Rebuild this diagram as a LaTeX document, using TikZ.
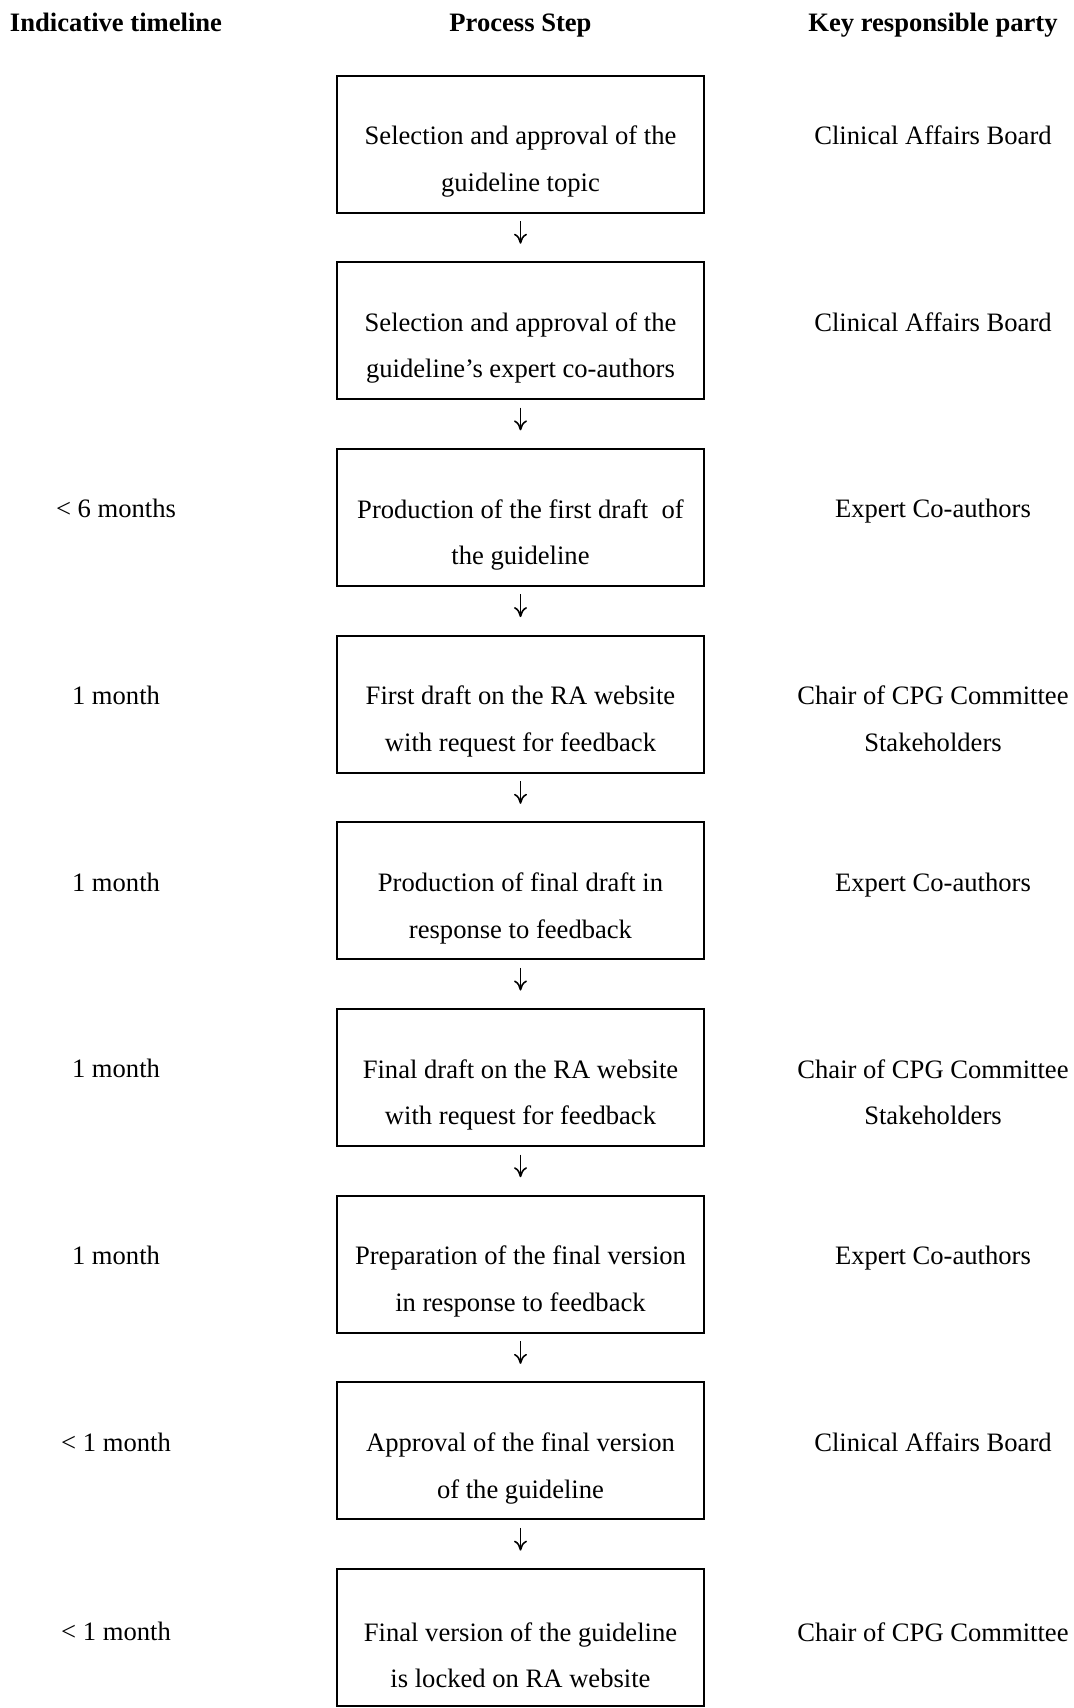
\documentclass[tikz,border=0pt]{standalone}
\usepackage{fontspec}
\setmainfont{Liberation Serif}
\usetikzlibrary{positioning,arrows.meta}

\tikzset{
  stepbox/.style={draw, line width=1pt, minimum width=183.5pt, minimum height=68.5pt, inner sep=0pt},
  steptext/.style={align=center, font=\fontsize{13.3}{23.3}\selectfont},
  sidetext/.style={steptext, anchor=north},
  colhead/.style={font=\fontsize{13.3}{16}\selectfont\bfseries, text height=9.5pt, text depth=3pt},
  flow/.style={-{To[length=5pt,width=6.5pt]}, line width=0.8pt, shorten <=3.75pt, shorten >=8.75pt}
}

\begin{document}
\begin{tikzpicture}[x=0.5pt, y=-0.5pt, node distance=23.85pt]
\useasboundingbox (0,0) rectangle (1073,1708);
% column headings
\node[colhead] (hTime) at (116,25) {Indicative timeline};
\node[colhead] (hStep) at (520.5,25) {Process Step};
\node[colhead] (hParty) at (933,25) {Key responsible party};

% process boxes
\node[stepbox] (s1) at (520.5,144) {};
\node[stepbox, below=of s1] (s2) {};
\node[stepbox, below=of s2] (s3) {};
\node[stepbox, below=of s3] (s4) {};
\node[stepbox, below=of s4] (s5) {};
\node[stepbox, below=of s5] (s6) {};
\node[stepbox, below=of s6] (s7) {};
\node[stepbox, below=of s7] (s8) {};
\node[stepbox, below=of s8] (s9) {};

% box texts
\node[steptext] (t1) at ([yshift=-8.75pt]s1.center) {Selection and approval of the\\guideline topic};
\node[steptext] (t2) at ([yshift=-8.75pt]s2.center) {Selection and approval of the\\guideline’s expert co-authors};
\node[steptext] (t3) at ([yshift=-8.75pt]s3.center) {Production of the first draft \ of\\the guideline};
\node[steptext] (t4) at ([yshift=-8.75pt]s4.center) {First draft on the RA website\\with request for feedback};
\node[steptext] (t5) at ([yshift=-8.75pt]s5.center) {Production of final draft in\\response to feedback};
\node[steptext] (t6) at ([yshift=-8.75pt]s6.center) {Final draft on the RA website\\with request for feedback};
\node[steptext] (t7) at ([yshift=-8.75pt]s7.center) {Preparation of the final version\\in response to feedback};
\node[steptext] (t8) at ([yshift=-8.75pt]s8.center) {Approval of the final version\\of the guideline};
\node[steptext] (t9) at ([yshift=-8.75pt]s9.center) {Final version of the guideline\\is locked on RA website};

% timeline
\node[sidetext] (d3) at (t3.north -| hTime) {< 6 months};
\node[sidetext] (d4) at (t4.north -| hTime) {1 month};
\node[sidetext] (d5) at (t5.north -| hTime) {1 month};
\node[sidetext] (d6) at (t6.north -| hTime) {1 month};
\node[sidetext] (d7) at (t7.north -| hTime) {1 month};
\node[sidetext] (d8) at (t8.north -| hTime) {< 1 month};
\node[sidetext] (d9) at (t9.north -| hTime) {< 1 month};

% responsible parties
\node[sidetext] (p1) at (t1.north -| hParty) {Clinical Affairs Board};
\node[sidetext] (p2) at (t2.north -| hParty) {Clinical Affairs Board};
\node[sidetext] (p3) at (t3.north -| hParty) {Expert Co-authors};
\node[sidetext] (p4) at (t4.north -| hParty) {Chair of CPG Committee\\Stakeholders};
\node[sidetext] (p5) at (t5.north -| hParty) {Expert Co-authors};
\node[sidetext] (p6) at (t6.north -| hParty) {Chair of CPG Committee\\Stakeholders};
\node[sidetext] (p7) at (t7.north -| hParty) {Expert Co-authors};
\node[sidetext] (p8) at (t8.north -| hParty) {Clinical Affairs Board};
\node[sidetext] (p9) at (t9.north -| hParty) {Chair of CPG Committee};

% arrows
\draw[flow] (s1) -- (s2);
\draw[flow] (s2) -- (s3);
\draw[flow] (s3) -- (s4);
\draw[flow] (s4) -- (s5);
\draw[flow] (s5) -- (s6);
\draw[flow] (s6) -- (s7);
\draw[flow] (s7) -- (s8);
\draw[flow] (s8) -- (s9);
\end{tikzpicture}
\end{document}
